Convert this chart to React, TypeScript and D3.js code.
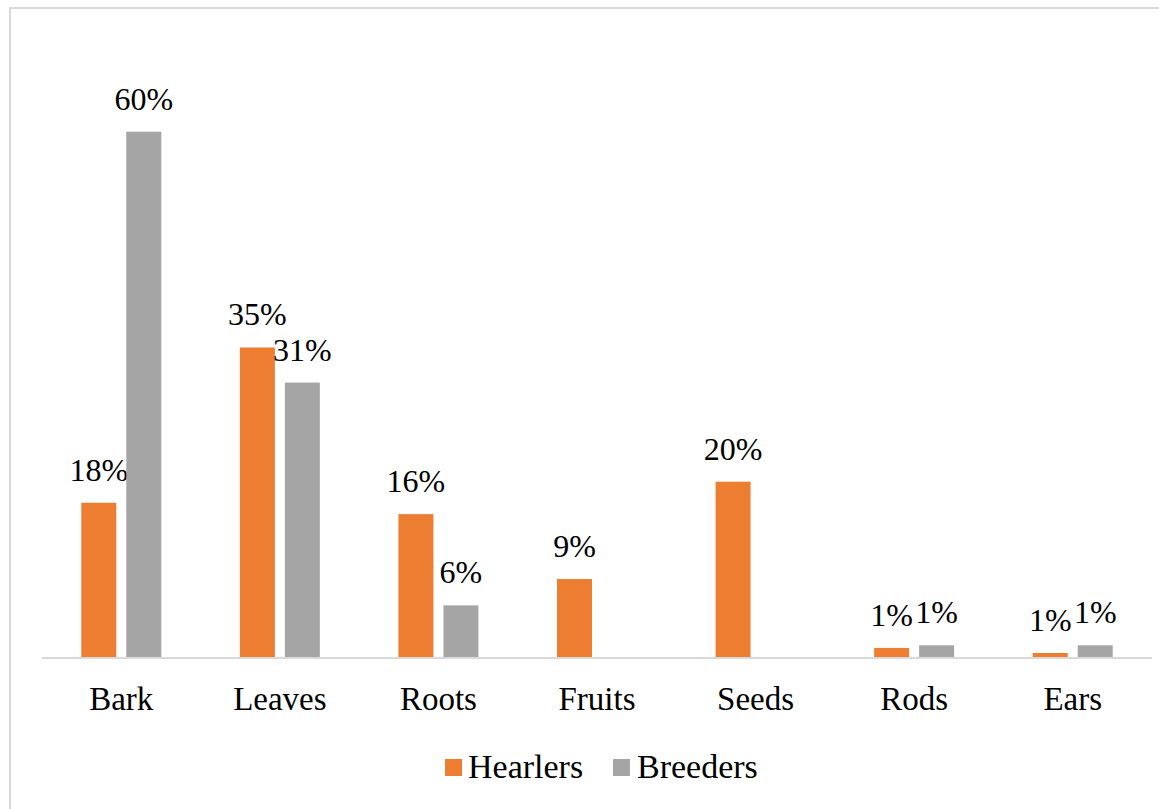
import React from "react";
import * as d3 from "d3";

const categories = ["Bark", "Leaves", "Roots", "Fruits", "Seeds", "Rods", "Ears"];
const seriesNames = ["Hearlers", "Breeders"];
const hearlers: (number | null)[] = [17.7, 35.4, 16.4, 9.0, 20.1, 1.15, 0.57];
const breeders: (number | null)[] = [60, 31.4, 6.0, null, null, 1.45, 1.45];
const colors = ["#ED7D31", "#A5A5A5"];

const W = 1159;
const H = 809;
const FONT = "'Liberation Serif', Tinos, 'DejaVu Serif', serif";

export default function App() {
  const x0 = d3.scaleBand<string>().domain(categories).range([42, 1152]).paddingInner(0).paddingOuter(0);
  const bw = x0.bandwidth();
  const x1 = d3
    .scaleBand<string>()
    .domain(seriesNames)
    .range([bw / 2 - 40, bw / 2 + 40])
    .paddingInner(2 - 80 / 45)
    .paddingOuter(0);
  const y = d3.scaleLinear().domain([0, 60]).range([658, 131.7]);
  const seriesData = [hearlers, breeders];
  const ts = { fontFamily: FONT } as React.CSSProperties;

  return (
    <svg width={W} height={H} style={{ position: "absolute", left: 0, top: 0, fontFamily: FONT }}>
      <rect x={0} y={0} width={W} height={H} fill="#fff" />
      <rect x={10} y={8} width={W + 20} height={H + 20} fill="none" stroke="#d9d9d9" strokeWidth={2} />
      {categories.map((c, i) => (
        <g key={c} transform={`translate(${x0(c)},0)`}>
          {seriesNames.map((s, j) => {
            const v = seriesData[j][i];
            if (v == null) return null;
            const bx = x1(s)!;
            return (
              <g key={s}>
                <rect x={bx} y={y(v)} width={x1.bandwidth()} height={y(0) - y(v)} fill={colors[j]} />
                <text
                  x={bx + x1.bandwidth() / 2}
                  y={y(v) - 22}
                  textAnchor="middle"
                  fontSize={32}
                  fill="#000"
                  style={ts}
                >
                  {Math.round(v)}%
                </text>
              </g>
            );
          })}
        </g>
      ))}
      <line x1={42} x2={1152} y1={y(0)} y2={y(0)} stroke="#d9d9d9" strokeWidth={2} />
      {categories.map((c) => (
        <text key={c} x={x0(c)! + bw / 2} y={710} textAnchor="middle" fontSize={33} fill="#000" style={ts}>
          {c}
        </text>
      ))}
      <g>
        <rect x={445} y={759} width={17} height={17} fill={colors[0]} />
        <text x={468} y={778} fontSize={34} fill="#000" style={ts}>
          {seriesNames[0]}
        </text>
        <rect x={613} y={759} width={17} height={17} fill={colors[1]} />
        <text x={637} y={778} fontSize={34} fill="#000" style={ts}>
          {seriesNames[1]}
        </text>
      </g>
    </svg>
  );
}
